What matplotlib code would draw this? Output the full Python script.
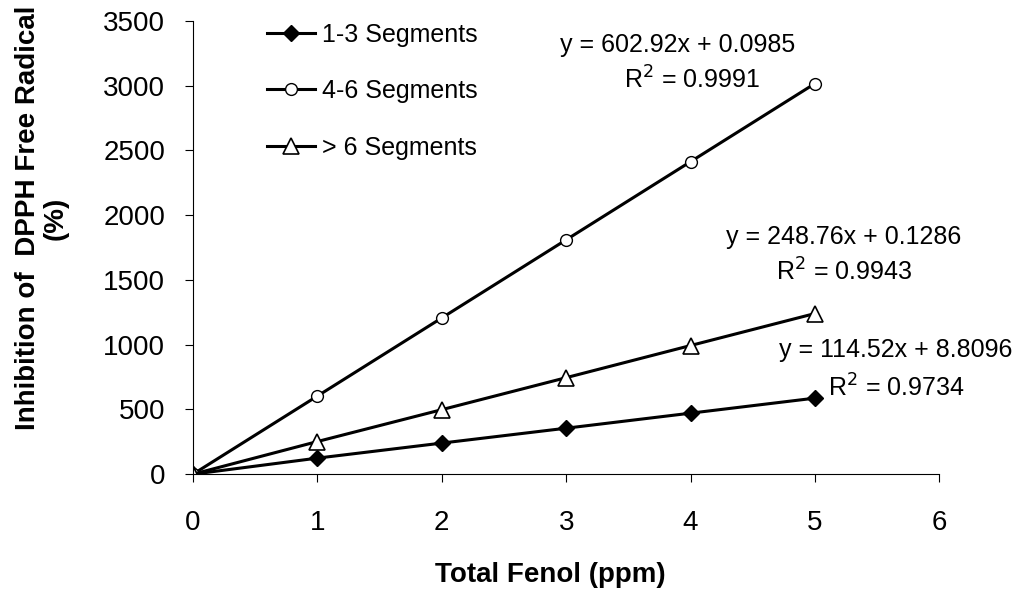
import numpy as np
import matplotlib
matplotlib.use("Agg")
import matplotlib.pyplot as plt

plt.rcParams['font.family'] = ['Liberation Sans', 'DejaVu Sans']

# datos
x = [0, 1, 2, 3, 4, 5]
seg13 = [0, 124, 240, 355, 471, 587]
seg46 = [0, 603, 1206, 1809, 2412, 3015]
seg6 = [0, 252, 498, 745, 993, 1240]

labels = ['1-3 Segments', '4-6 Segments', '> 6 Segments']
ecuaciones = ['y = 602.92x + 0.0985', 'y = 248.76x + 0.1286', 'y = 114.52x + 8.8096']
r2 = ['R$^2$ = 0.9991', 'R$^2$ = 0.9943', 'R$^2$ = 0.9734']

fig = plt.figure(figsize=(10.21, 5.92), dpi=100)
ax = fig.add_axes([0.189, 0.199, 0.731, 0.766])

ax.plot(x, seg13, 'k-', lw=2.2, marker='D', ms=8, mfc='k', mec='k', label=labels[0])
ax.plot(x, seg46, 'k-', lw=2.2, marker='o', ms=8.5, mfc='white', mec='k', mew=1.0, label=labels[1])
ax.plot(x, seg6, 'k-', lw=2.2, marker='^', ms=11, mfc='white', mec='k', mew=1.2, label=labels[2])

ax.set_xlim(0, 6)
ax.set_ylim(0, 3500)
ax.set_xticks(range(0, 7))
ax.set_yticks(range(0, 3501, 500))
ax.spines['top'].set_visible(False)
ax.spines['right'].set_visible(False)
ax.tick_params(direction='out', length=6, labelsize=20)
ax.tick_params(axis='x', pad=20)
ax.tick_params(axis='y', pad=14)

# titulos de los ejes
fig.text(550 / 1021, 1 - 575 / 592, 'Total Fenol (ppm)', fontsize=20, fontweight='bold',
         ha='center', va='center')
fig.text(42 / 1021, 1 - 218 / 592, 'Inhibition of  DPPH Free Radical\n(%)', fontsize=20,
         fontweight='bold', rotation=90, ha='center', va='center', multialignment='center',
         linespacing=1.05)

# ecuaciones de las rectas
ax.text(3.9, 3315, ecuaciones[0], fontsize=18, ha='center', va='center')
ax.text(4.01, 3045, r2[0], fontsize=18, ha='center', va='center')
ax.text(5.23, 1832, ecuaciones[1], fontsize=18, ha='center', va='center')
ax.text(5.23, 1561, r2[1], fontsize=18, ha='center', va='center')
ax.text(5.65, 958, ecuaciones[2], fontsize=18, ha='center', va='center')
ax.text(5.65, 665, r2[2], fontsize=18, ha='center', va='center')

ax.legend(loc='upper left', bbox_to_anchor=(0.086, 1.018), frameon=False, fontsize=18,
          handlelength=1.9, labelspacing=1.3, handletextpad=0.28, borderaxespad=0)

fig.savefig('out.png', dpi=100)
